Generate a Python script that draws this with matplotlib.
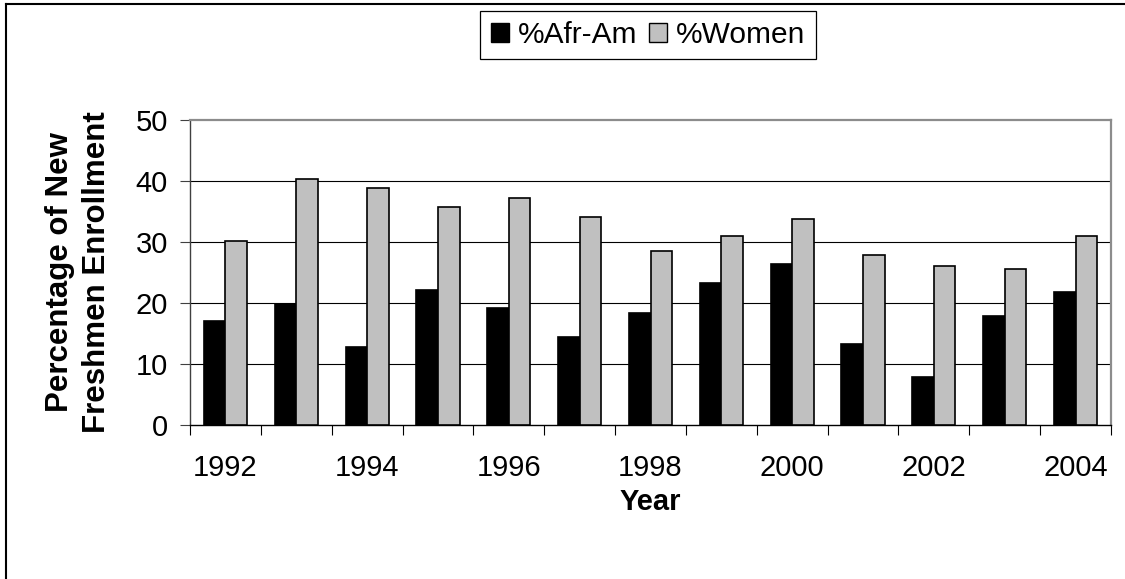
import matplotlib
matplotlib.use("Agg")
import matplotlib.pyplot as plt
from matplotlib.lines import Line2D
from matplotlib.patches import Patch
import numpy as np

plt.rcParams['font.family'] = ['Liberation Sans', 'DejaVu Sans']

years = [1992, 1993, 1994, 1995, 1996, 1997, 1998, 1999, 2000, 2001, 2002, 2003, 2004]
afr_am = [17.1, 19.9, 12.8, 22.1, 19.1, 14.4, 18.3, 23.3, 26.4, 13.2, 7.8, 17.9, 21.8]
women = [30.2, 40.3, 38.8, 35.7, 37.2, 34.1, 28.6, 31.0, 33.8, 27.9, 26.0, 25.5, 31.0]
y_ticks = [0, 10, 20, 30, 40, 50]
series_names = ['%Afr-Am', '%Women']

W, H = 1125, 579
fig = plt.figure(figsize=(W / 100, H / 100), dpi=100)
fig.patch.set_facecolor('white')

left, right, top, bottom = 190, 1111, 120, 425
ax = fig.add_axes([left / W, 1 - bottom / H, (right - left) / W, (bottom - top) / H])

x = np.arange(len(years))
bw = 0.305
ax.bar(x - bw / 2, afr_am, width=bw, color='black', edgecolor='black', linewidth=1.2, zorder=3)
ax.bar(x + bw / 2, women, width=bw, color='#c0c0c0', edgecolor='black', linewidth=1.2, zorder=3)

ax.set_xlim(-0.5, len(years) - 0.5)
ax.set_ylim(0, 50)

# horizontal gridlines
for v in y_ticks[1:-1]:
    ax.axhline(v, color='black', linewidth=0.8, zorder=1)

ax.set_yticks(y_ticks)
ax.tick_params(axis='y', direction='out', length=7, width=0.8, pad=9,
               labelsize=21, color='#404040')

ax.set_xticks(x[::2])
ax.set_xticklabels([str(y) for y in years[::2]])
ax.set_xticks(np.arange(-0.5, len(years), 1.0), minor=True)
ax.tick_params(axis='x', which='major', length=0, pad=21, labelsize=21)
ax.tick_params(axis='x', which='minor', direction='out', length=7, width=0.8, color='black')

for side in ('top', 'right'):
    ax.spines[side].set_color('#8c8c8c')
    ax.spines[side].set_linewidth(1.6)
ax.spines['left'].set_color('#404040')
ax.spines['left'].set_linewidth(1.0)
ax.spines['bottom'].set_color('black')
ax.spines['bottom'].set_linewidth(1.0)

ax.set_ylabel('Percentage of New\nFreshmen Enrollment', fontsize=22.5, fontweight='bold',
              labelpad=17, linespacing=1.3)
ax.set_xlabel('Year', fontsize=21, fontweight='bold', labelpad=4)

handles = [Patch(facecolor='black', edgecolor='black', linewidth=1.0),
           Patch(facecolor='#c0c0c0', edgecolor='black', linewidth=1.0)]
leg = fig.legend(handles, series_names, loc='center', bbox_to_anchor=(648 / W, 1 - 35 / H),
                 ncol=2, fontsize=21.5, frameon=True, fancybox=False, framealpha=1,
                 edgecolor='black', handlelength=0.6, handleheight=0.6,
                 handletextpad=0.3, columnspacing=0.4, borderpad=0.35)
leg.get_frame().set_linewidth(0.9)

# outer frame of the chart area
fig.add_artist(Line2D([6 / W, 1], [1 - 3.5 / H, 1 - 3.5 / H], color='black', linewidth=1.5))
fig.add_artist(Line2D([6 / W, 6 / W], [0, 1 - 3.5 / H], color='black', linewidth=1.5))

fig.savefig('out.png', dpi=100)
